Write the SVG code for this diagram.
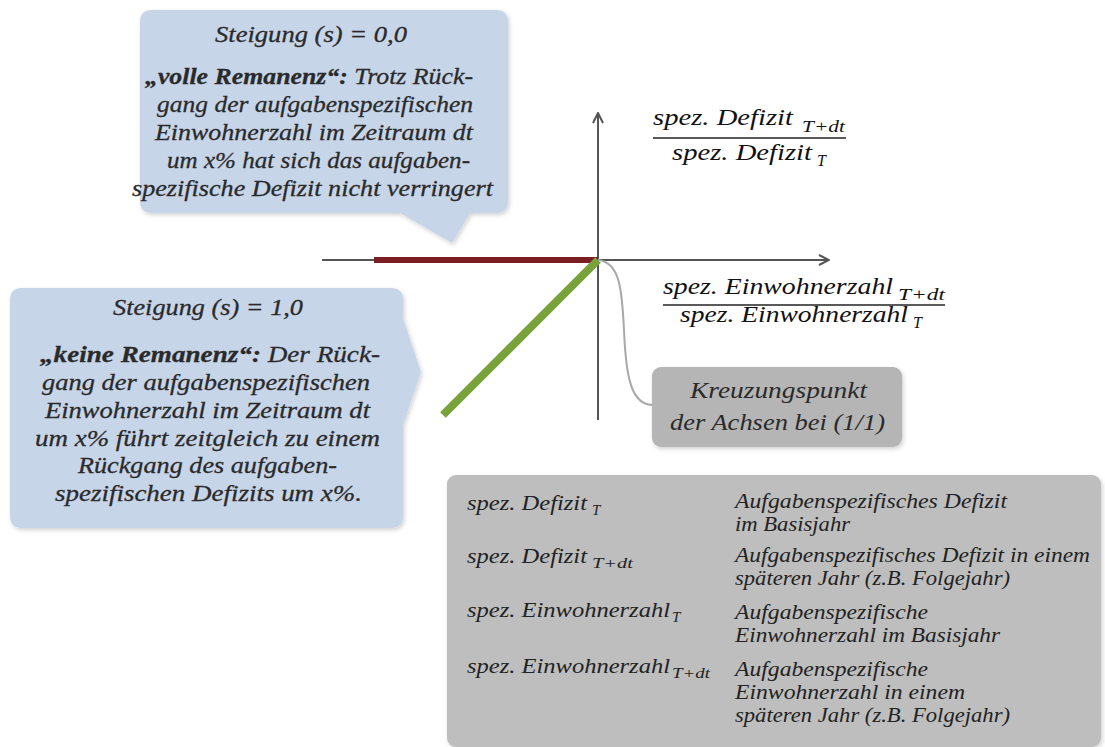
<svg xmlns="http://www.w3.org/2000/svg" width="1105" height="747" viewBox="0 0 1105 747">
<defs>
<style>
text{font-family:'Liberation Serif','Times New Roman',serif;font-style:italic;}
.callout{fill:#c7d5e9;filter:url(#shadow);}
.grey{filter:url(#shadow);}
.axis{stroke:#555;stroke-width:2;fill:none;}
.bar{stroke:#222;stroke-width:1.5;}
</style>
<filter id="shadow" x="-5%" y="-5%" width="112%" height="115%">
<feDropShadow dx="1.5" dy="2" stdDeviation="2" flood-color="#000" flood-opacity="0.18"/>
</filter>
<marker id="arr" viewBox="0 0 12 12" refX="11" refY="6" markerWidth="12" markerHeight="12" markerUnits="userSpaceOnUse" orient="auto">
<path d="M1,1 L11,6 L1,11" fill="none" stroke="#555" stroke-width="2"/>
</marker>
</defs>
<rect width="1105" height="747" fill="#fff"/>

<g id="connectors">
<line class="axis" x1="598" y1="420" x2="598" y2="113" marker-end="url(#arr)"/>
<line class="axis" x1="322" y1="260" x2="829" y2="260" marker-end="url(#arr)"/>
<line x1="374" y1="260" x2="598" y2="260" stroke="#7a1e24" stroke-width="6"/>
<line x1="598" y1="260" x2="443" y2="415" stroke="#79a23b" stroke-width="8"/>
<path d="M598,260 C620,262 622,290 624,330 C626,380 632,404 652,405" fill="none" stroke="#a8a8a8" stroke-width="2"/>
</g>

<g id="callout-voll" font-family="Liberation Serif, Times New Roman, serif" font-style="italic" font-size="24" fill="#2a2a2a" stroke="#2a2a2a" stroke-width="0.3">
<path class="callout" stroke="none" d="M152,10 H496 Q508,10 508,22 V201 Q508,213 496,213 H470 L452,243 L400,213 H152 Q140,213 140,201 V22 Q140,10 152,10 Z"/>
<text x="215" y="42" textLength="192" lengthAdjust="spacingAndGlyphs">Steigung (s) = 0,0</text>
<text x="145" y="84" textLength="328" lengthAdjust="spacingAndGlyphs"><tspan font-weight="bold">„volle Remanenz“:</tspan>  Trotz Rück-</text>
<text x="157" y="112" textLength="316" lengthAdjust="spacingAndGlyphs">gang der aufgabenspezifischen</text>
<text x="155" y="140" textLength="318" lengthAdjust="spacingAndGlyphs">Einwohnerzahl im Zeitraum dt</text>
<text x="167" y="168" textLength="303" lengthAdjust="spacingAndGlyphs">um x% hat sich das aufgaben-</text>
<text x="132" y="196" textLength="361" lengthAdjust="spacingAndGlyphs">spezifische Defizit nicht verringert</text>
</g>

<g id="callout-keine" font-family="Liberation Serif, Times New Roman, serif" font-style="italic" font-size="24" fill="#2a2a2a" stroke="#2a2a2a" stroke-width="0.3">
<path class="callout" stroke="none" d="M22,288 H391 Q403,288 403,300 V318 L421,372 L403,425 V516 Q403,528 391,528 H22 Q10,528 10,516 V300 Q10,288 22,288 Z"/>
<text x="113" y="315" textLength="190" lengthAdjust="spacingAndGlyphs">Steigung (s) = 1,0</text>
<text x="40" y="362" textLength="340" lengthAdjust="spacingAndGlyphs"><tspan font-weight="bold">„keine Remanenz“:</tspan>  Der Rück-</text>
<text x="42" y="390" textLength="328" lengthAdjust="spacingAndGlyphs">gang der aufgabenspezifischen</text>
<text x="45" y="418" textLength="325" lengthAdjust="spacingAndGlyphs">Einwohnerzahl im Zeitraum dt</text>
<text x="35" y="446" textLength="345" lengthAdjust="spacingAndGlyphs">um x% führt zeitgleich zu einem</text>
<text x="78" y="473" textLength="259" lengthAdjust="spacingAndGlyphs">Rückgang des aufgaben-</text>
<text x="55" y="501" textLength="307" lengthAdjust="spacingAndGlyphs">spezifischen Defizits um x%.</text>
</g>

<g id="label-y" font-family="Liberation Serif, Times New Roman, serif" font-style="italic" font-size="23" fill="#111">
<text x="653" y="125" textLength="140" lengthAdjust="spacingAndGlyphs">spez. Defizit</text>
<text x="802" y="132" font-size="16" textLength="43" lengthAdjust="spacingAndGlyphs">T+dt</text>
<line class="bar" x1="653" y1="138" x2="846" y2="138"/>
<text x="672" y="160" textLength="140" lengthAdjust="spacingAndGlyphs">spez. Defizit</text>
<text x="817" y="166" font-size="16">T</text>
</g>

<g id="label-x" font-family="Liberation Serif, Times New Roman, serif" font-style="italic" font-size="23" fill="#111">
<text x="663" y="294" textLength="230" lengthAdjust="spacingAndGlyphs">spez. Einwohnerzahl</text>
<text x="898" y="300" font-size="16" textLength="47" lengthAdjust="spacingAndGlyphs">T+dt</text>
<line class="bar" x1="663" y1="305" x2="945" y2="305"/>
<text x="680" y="322" textLength="228" lengthAdjust="spacingAndGlyphs">spez. Einwohnerzahl</text>
<text x="913" y="328" font-size="16">T</text>
</g>

<g id="kreuzungspunkt" font-family="Liberation Serif, Times New Roman, serif" font-style="italic" font-size="23" fill="#2a2a2a">
<rect class="grey" x="652" y="367" width="250" height="80" rx="9" fill="#b5b5b5"/>
<text x="690" y="398" textLength="177" lengthAdjust="spacingAndGlyphs">Kreuzungspunkt</text>
<text x="670" y="430" textLength="215" lengthAdjust="spacingAndGlyphs">der Achsen bei (1/1)</text>
</g>

<g id="legende" font-family="Liberation Serif, Times New Roman, serif" font-style="italic" font-size="22" fill="#222">
<rect class="grey" x="447" y="475" width="654" height="272" rx="9" fill="#bebebe"/>
<text x="467" y="510" font-size="21" textLength="120" lengthAdjust="spacingAndGlyphs">spez. Defizit</text>
<text x="592" y="515" font-size="15">T</text>
<text x="467" y="563" font-size="21" textLength="120" lengthAdjust="spacingAndGlyphs">spez. Defizit</text>
<text x="592" y="568" font-size="15" textLength="41" lengthAdjust="spacingAndGlyphs">T+dt</text>
<text x="467" y="617" font-size="21" textLength="203" lengthAdjust="spacingAndGlyphs">spez. Einwohnerzahl</text>
<text x="672" y="622" font-size="15">T</text>
<text x="467" y="673" font-size="21" textLength="203" lengthAdjust="spacingAndGlyphs">spez. Einwohnerzahl</text>
<text x="672" y="678" font-size="15" textLength="38" lengthAdjust="spacingAndGlyphs">T+dt</text>

<text x="735" y="508" textLength="272" lengthAdjust="spacingAndGlyphs">Aufgabenspezifisches Defizit</text>
<text x="735" y="531" textLength="115" lengthAdjust="spacingAndGlyphs">im Basisjahr</text>
<text x="735" y="562" textLength="355" lengthAdjust="spacingAndGlyphs">Aufgabenspezifisches Defizit in einem</text>
<text x="735" y="585" textLength="275" lengthAdjust="spacingAndGlyphs">späteren Jahr (z.B. Folgejahr)</text>
<text x="735" y="619" textLength="193" lengthAdjust="spacingAndGlyphs">Aufgabenspezifische</text>
<text x="735" y="642" textLength="265" lengthAdjust="spacingAndGlyphs">Einwohnerzahl im Basisjahr</text>
<text x="735" y="676" textLength="193" lengthAdjust="spacingAndGlyphs">Aufgabenspezifische</text>
<text x="735" y="699" textLength="230" lengthAdjust="spacingAndGlyphs">Einwohnerzahl in einem</text>
<text x="735" y="722" textLength="275" lengthAdjust="spacingAndGlyphs">späteren Jahr (z.B. Folgejahr)</text>
</g>
</svg>
